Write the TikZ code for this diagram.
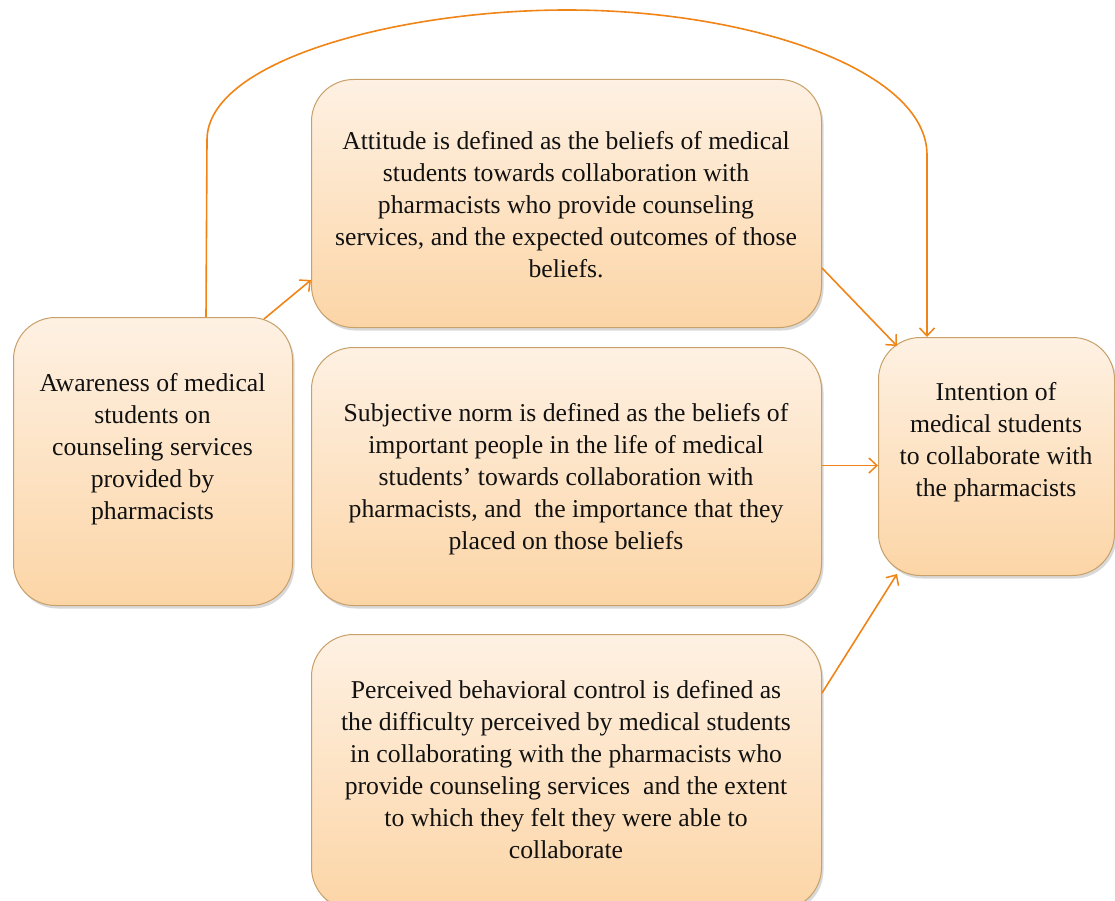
\documentclass[tikz,border=0pt]{standalone}
\usepackage{fontspec}
\setmainfont{Liberation Serif}
\newfontfamily\tnr{Liberation Serif}
\usetikzlibrary{arrows.meta,shadows,calc}
\definecolor{boxtop}{RGB}{254,241,227}
\definecolor{boxbot}{RGB}{252,213,166}
\definecolor{boxline}{RGB}{200,160,105}
\definecolor{arrcol}{RGB}{240,132,22}
\definecolor{txt}{RGB}{17,17,17}
\tikzset{
  x=1pt, y=-1pt,
  box/.style={draw=boxline, line width=1pt, rounded corners=42pt,
    top color=boxtop, bottom color=boxbot, anchor=north west,
    inner sep=0pt,
    drop shadow={shadow xshift=2pt, shadow yshift=-3pt, opacity=0.25, fill=black!60}},
  txtnode/.style={align=center, text=txt, font=\tnr\fontsize{25.7}{32}\selectfont, inner sep=0pt},
  arr/.style={draw=arrcol, line width=1.6pt, -{Straight Barb[length=8pt,width=15pt,line width=1.5pt]}}
}
\begin{document}
\begin{tikzpicture}
\useasboundingbox (0,0) rectangle (1115,901);
\clip (0,0) rectangle (1115,901);
% boxes
\node[box, minimum width=279pt, minimum height=288pt] (aw) at (13,317) {};
\node[box, minimum width=510pt, minimum height=248pt] (att) at (311,79) {};
\node[box, minimum width=510pt, minimum height=258pt] (sub) at (311,347) {};
\node[box, minimum width=510pt, minimum height=275pt] (per) at (311,634) {};
\node[box, minimum width=236pt, minimum height=238pt] (int) at (878,337) {};
% texts
\node[txtnode] (awt) at (152.5,449) {Awareness of medical\\ students on\\ counseling services\\ provided by\\ pharmacists};
\node[txtnode] (attt) at (566,205) {Attitude is defined as the beliefs of medical\\ students towards collaboration with\\ pharmacists who provide counseling\\ services, and the expected outcomes of those\\ beliefs.};
\node[txtnode] (subt) at (566,479) {Subjective norm is defined as the beliefs of\\ important people in the life of medical\\ students’ towards collaboration with\\ pharmacists, and~ the importance that they\\ placed on those beliefs};
\node[txtnode] (pert) at (566,770) {Perceived behavioral control is defined as\\ the difficulty perceived by medical students\\ in collaborating with the pharmacists who\\ provide counseling services~ and the extent\\ to which they felt they were able to\\ collaborate};
\node[txtnode] (intt) at (996,442) {Intention of\\ medical students\\ to collaborate with\\ the pharmacists};
% connectors
\coordinate (a1) at ([xshift=-29pt,yshift=-2pt]aw.north east);
\coordinate (a2) at ([yshift=48pt]att.south west);
\draw[arr] (a1) -- (a2);
\coordinate (b1) at ([yshift=60pt]att.south east);
\coordinate (b2) at ([xshift=19pt,yshift=-9pt]int.north west);
\draw[arr] (b1) -- (b2);
\coordinate (c1) at ([yshift=11pt]sub.east);
\draw[arr] (c1) -- (c1 -| int.west);
\coordinate (d1) at ([yshift=-59pt]per.north east);
\coordinate (d2) at ([xshift=19pt,yshift=2pt]int.south west);
\draw[arr] (d1) -- (d2);
\coordinate (e0) at ([xshift=193pt]aw.north west);
\coordinate (e1) at ([xshift=49pt]int.north west);
\draw[arr] (e0) -- (207,140) .. controls (207,60) and (400,10) .. (567,10)
   .. controls (750,10) and (927,70) .. (927,155) -- (e1);
\end{tikzpicture}
\end{document}
